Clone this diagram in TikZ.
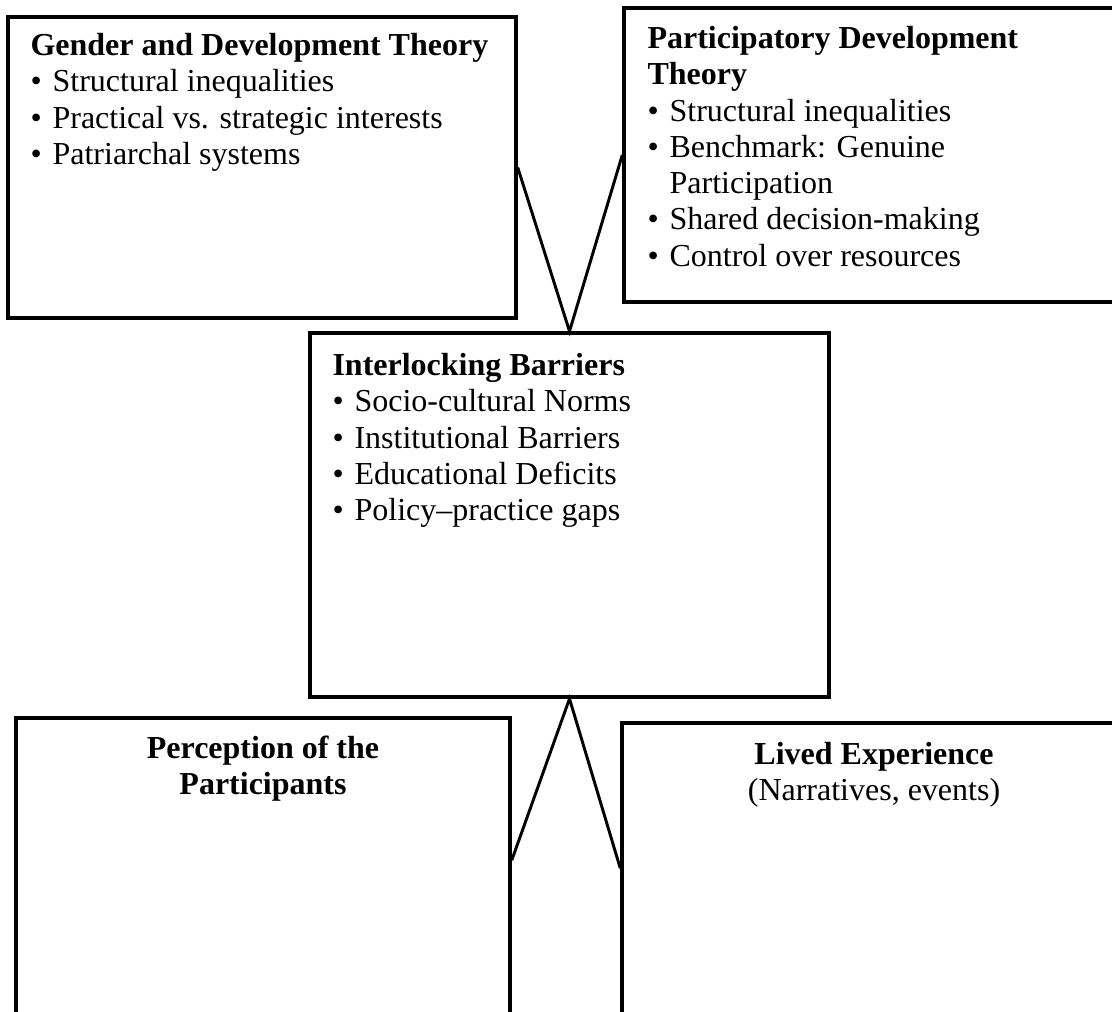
\documentclass[tikz,border=0pt]{standalone}
\usepackage{fontspec}
\setmainfont{Liberation Serif}
\usetikzlibrary{calc}

\tikzset{
  frame/.style={draw, line width=1.3pt, inner sep=0pt, fill=none},
  link/.style={line width=1.1pt, line join=miter},
  txt/.style={inner sep=0pt, align=left, anchor=north west,
    font=\fontsize{12pt}{13.6pt}\selectfont},
  ctxt/.style={txt, align=center, anchor=north}
}
\newcommand{\firstline}{\rule{0pt}{9pt}}
\newcommand{\bul}{•\hspace{0.34em}}

\begin{document}
\begin{tikzpicture}[x=0.375pt, y=-0.375pt]
  \useasboundingbox (0,0) rectangle (1112,1012);
  \fill[white] (0,0) rectangle (1112,1012);
  \clip (0,0) rectangle (1112,1012);

  % boxes
  \node[frame, minimum width=190.5pt, minimum height=112.9pt] (gad) at (262,167.5) {};
  \node[frame, minimum width=189.75pt, minimum height=110.25pt] (pdt) at (877,155) {};
  \node[frame, minimum width=194.6pt, minimum height=136.5pt] (mid) at (569.5,515) {};
  \node[frame, minimum width=185.25pt, minimum height=120.75pt] (perc) at (263,879) {};
  \node[frame, minimum width=189pt, minimum height=120.75pt] (lived) at (874,884) {};

  % box texts
  \node[txt] (gadtext) at (30,31) {\firstline\textbf{Gender and Development Theory}\\
    \bul Structural inequalities\\
    \bul Practical vs. strategic interests\\
    \bul Patriarchal systems};
  \node[txt] (pdttext) at (647,24) {\firstline\textbf{Participatory Development}\\
    \textbf{Theory}\\
    \bul Structural inequalities\\
    \bul Benchmark: Genuine\\
    \hphantom{\bul}Participation\\
    \bul Shared decision-making\\
    \bul Control over resources};
  \node[txt] (midtext) at (332,351) {\firstline\textbf{Interlocking Barriers}\\
    \bul Socio-cultural Norms\\
    \bul Institutional Barriers\\
    \bul Educational Deficits\\
    \bul Policy–practice gaps};
  \node[ctxt] (perctext) at (263,734) {\firstline\textbf{Perception of the}\\
    \textbf{Participants}};
  \node[ctxt] (livedtext) at (874,740) {\firstline\textbf{Lived Experience}\\
    (Narratives, events)};

  % connectors
  \coordinate (pj) at ($(perc.north east)+(0,144)$);
  \coordinate (lj) at ($(lived.north west)+(0,147)$);
  \draw[link] (gad.east) -- (mid.north) -- (pdt.west);
  \draw[link] (pj) -- (mid.south) -- (lj);
\end{tikzpicture}
\end{document}
